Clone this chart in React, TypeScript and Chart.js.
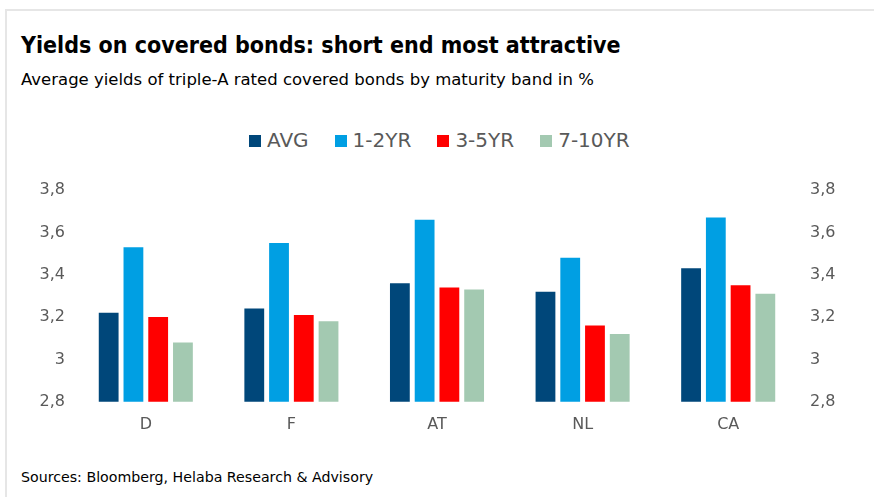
import React, { useEffect, useRef } from "react";
import { Chart, registerables } from "chart.js";

Chart.register(...registerables);

const categories = ["D", "F", "AT", "NL", "CA"];
const seriesNames = ["AVG", "1-2YR", "3-5YR", "7-10YR"];
const avgValues = [3.22, 3.24, 3.36, 3.32, 3.43];
const shortValues = [3.53, 3.55, 3.66, 3.48, 3.67];
const midValues = [3.2, 3.21, 3.34, 3.16, 3.35];
const longValues = [3.08, 3.18, 3.33, 3.12, 3.31];
const seriesColors = ["#00477A", "#009FE3", "#FF0000", "#A3C9B1"];
const yMin = 2.8;
const yMax = 3.8;
const yStep = 0.2;

const fmt = (v: number) => {
  const r = Math.round(v * 10) / 10;
  return String(r).replace(".", ",");
};

const tickFont = { family: "DejaVu Sans", size: 16 };

export default function App() {
  const ref = useRef<HTMLCanvasElement | null>(null);

  useEffect(() => {
    document.body.style.margin = "0";
    const values = [avgValues, shortValues, midValues, longValues];
    const chart = new Chart(ref.current as HTMLCanvasElement, {
      type: "bar",
      data: {
        labels: categories,
        datasets: seriesNames.map((name, i) => ({
          label: name,
          data: values[i],
          backgroundColor: seriesColors[i],
          categoryPercentage: 0.68,
          barPercentage: 0.8,
          yAxisID: "y",
        })),
      },
      options: {
        animation: false,
        responsive: false,
        maintainAspectRatio: false,
        layout: { padding: { top: 20, bottom: 0, left: 0, right: 0 } },
        plugins: {
          tooltip: { enabled: false },
          legend: { display: false },
        },
        scales: {
          x: {
            grid: { display: false, drawTicks: false },
            border: { display: false },
            ticks: {
              color: "#595959",
              font: tickFont,
              padding: 13,
            },
          },
          y: {
            position: "left",
            min: yMin,
            max: yMax,
            grid: { display: false, drawTicks: false },
            border: { display: false },
            ticks: {
              stepSize: yStep,
              color: "#595959",
              font: tickFont,
              padding: 8,
              callback: (v: any) => fmt(Number(v)),
            },
            afterFit: (s: any) => {
              s.width = 73;
            },
          },
          y2: {
            position: "right",
            min: yMin,
            max: yMax,
            grid: { display: false, drawTicks: false },
            border: { display: false },
            ticks: {
              stepSize: yStep,
              color: "#595959",
              font: tickFont,
              padding: 9,
              callback: (v: any) => fmt(Number(v)),
            },
            afterFit: (s: any) => {
              s.width = 73;
            },
          },
        },
      },
    });
    return () => chart.destroy();
  }, []);

  return (
    <div
      style={{
        position: "relative",
        width: 874,
        height: 497,
        background: "#fff",
        overflow: "hidden",
      }}
    >
      <div
        style={{
          position: "absolute",
          left: 5,
          top: 9,
          right: -5,
          bottom: -5,
          borderTop: "2px solid #e6e6e6",
          borderLeft: "2px solid #e6e6e6",
        }}
      />
      <div
        style={{
          position: "absolute",
          left: 21,
          top: 34,
          fontFamily: "DejaVu Sans",
          fontStretch: "condensed",
          fontWeight: "bold",
          fontSize: 23,
          lineHeight: "23px",
          color: "#000",
          whiteSpace: "nowrap",
        }}
      >
        Yields on covered bonds: short end most attractive
      </div>
      <div
        style={{
          position: "absolute",
          left: 21,
          top: 72,
          fontFamily: "DejaVu Sans",
          fontSize: 16.5,
          lineHeight: "16.5px",
          color: "#000",
          whiteSpace: "nowrap",
        }}
      >
        Average yields of triple-A rated covered bonds by maturity band in %
      </div>
      <div
        style={{
          position: "absolute",
          left: 249,
          top: 130,
          display: "flex",
          alignItems: "flex-end",
          fontFamily: "DejaVu Sans",
          fontSize: 20,
          lineHeight: "20px",
          color: "#595959",
          whiteSpace: "nowrap",
        }}
      >
        {seriesNames.map((name, i) => (
          <div
            key={name}
            style={{ display: "flex", alignItems: "flex-end", marginRight: i < seriesNames.length - 1 ? 26 : 0 }}
          >
            <span
              style={{
                display: "inline-block",
                width: 12,
                height: 12,
                background: seriesColors[i],
                marginRight: 6,
                marginBottom: 3,
              }}
            />
            <span>{name}</span>
          </div>
        ))}
      </div>
      <canvas
        ref={ref}
        width={874}
        height={277}
        style={{ position: "absolute", left: 0, top: 170, width: 874, height: 277 }}
      />
      <div
        style={{
          position: "absolute",
          left: 21,
          top: 470,
          fontFamily: "DejaVu Sans",
          fontSize: 14.2,
          lineHeight: "14.2px",
          color: "#000",
          whiteSpace: "nowrap",
        }}
      >
        Sources: Bloomberg, Helaba Research &amp; Advisory
      </div>
    </div>
  );
}
